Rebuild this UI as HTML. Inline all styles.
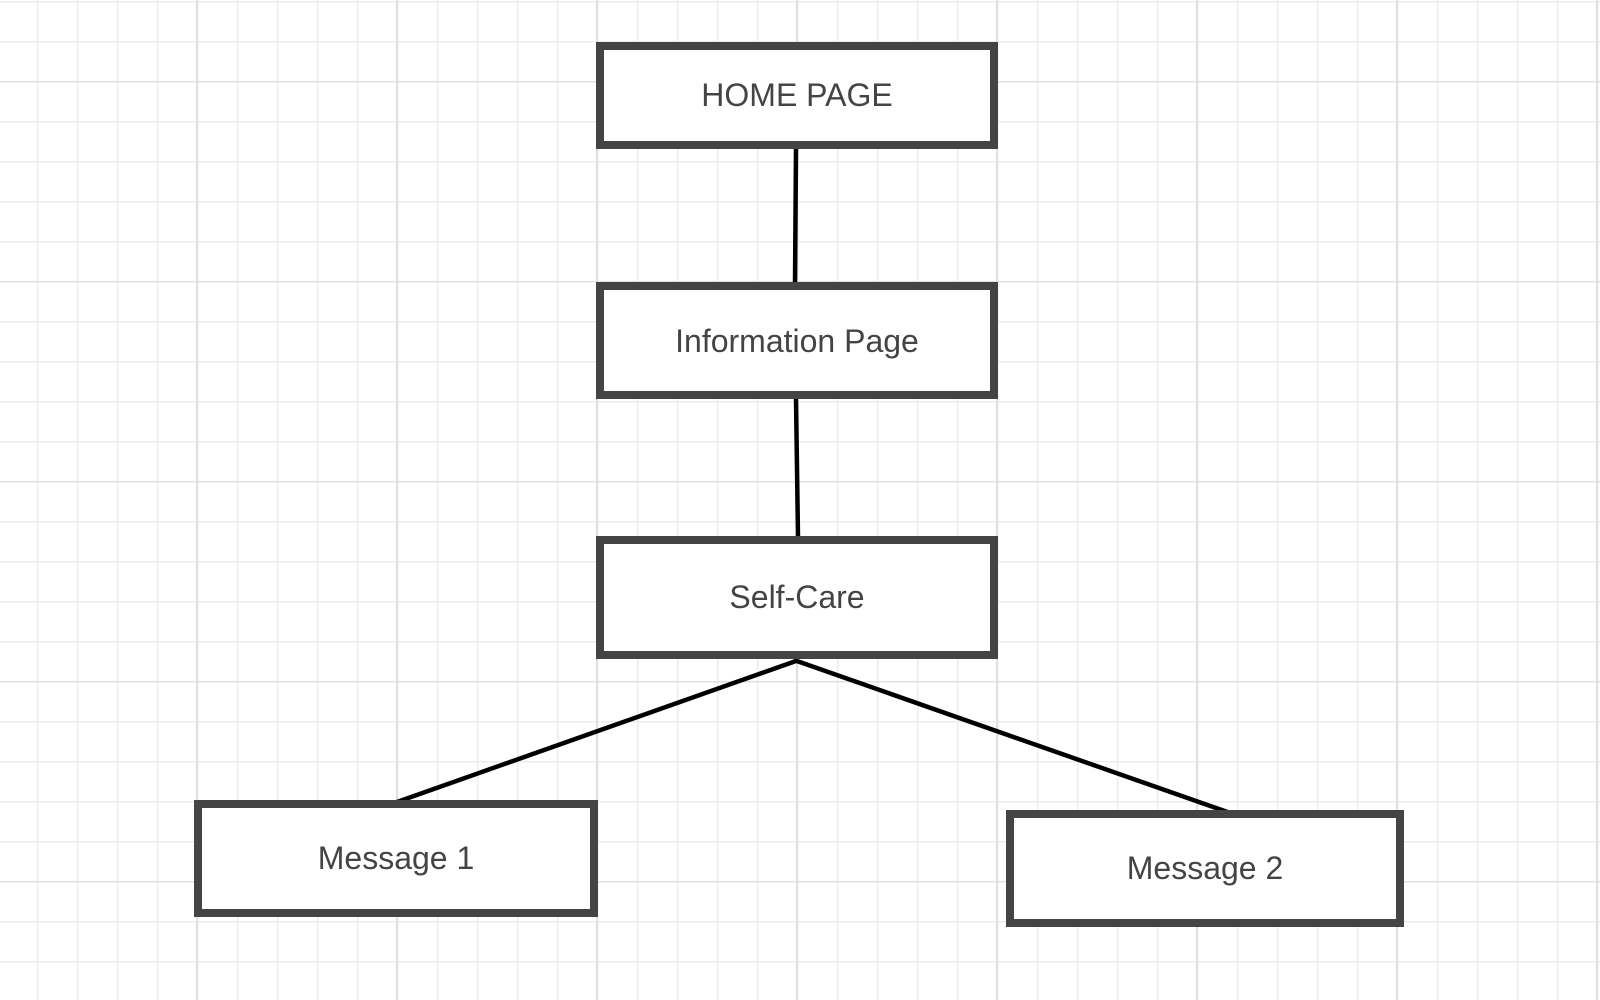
<!DOCTYPE html>
<html><head><meta charset="utf-8"><style>
html,body{margin:0;padding:0;width:1600px;height:1000px;overflow:hidden;background:#fff}
svg{display:block}
text{font-family:"Liberation Sans",Arial,sans-serif;font-size:32px;fill:#444}
</style></head><body>
<svg width="1600" height="1000" viewBox="0 0 1600 1000">
<defs>
<pattern id="g" x="-3" y="1" width="40" height="40" patternUnits="userSpaceOnUse">
<path d="M0.5 0V40M0 0.5H40" stroke="#ececec" stroke-width="2" fill="none"/>
</pattern>
<pattern id="G" x="-4" y="81" width="200" height="200" patternUnits="userSpaceOnUse">
<path d="M1 0V200M0 0.5H200" stroke="#e0e0e0" stroke-width="2" fill="none"/>
</pattern>
</defs>
<rect width="1600" height="1000" fill="url(#g)"/>
<rect width="1600" height="1000" fill="url(#G)"/>
<g stroke="#000" stroke-width="4.5" fill="none">
<line x1="796" y1="148" x2="795" y2="284"/>
<line x1="796" y1="399" x2="798" y2="537"/>
<line x1="796" y1="661" x2="397" y2="802"/>
<line x1="794" y1="660" x2="1236" y2="815"/>
</g>
<g fill="#fff" stroke="#444" stroke-width="8">
<rect x="600" y="46" width="394" height="99"/>
<rect x="600" y="286" width="394" height="109"/>
<rect x="600" y="540" width="394" height="115"/>
<rect x="198" y="804" width="396" height="109"/>
<rect x="1010" y="814" width="390" height="109"/>
</g>
<g text-anchor="middle">
<text x="797" y="106">HOME PAGE</text>
<text x="797" y="352">Information Page</text>
<text x="797" y="608">Self-Care</text>
<text x="396" y="869">Message 1</text>
<text x="1205" y="879">Message 2</text>
</g>
</svg>
</body></html>
